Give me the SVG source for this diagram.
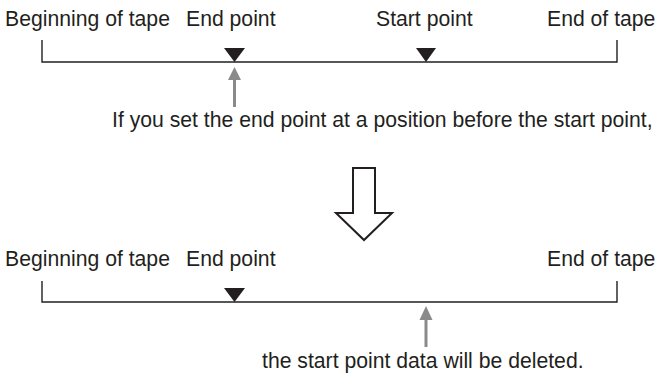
<svg xmlns="http://www.w3.org/2000/svg" width="655" height="374" viewBox="0 0 655 374">
<style>
  text { font-family: "Liberation Sans", Arial, sans-serif; font-size: 21.2px; fill: #231f20; }
  .tape { fill: none; stroke: #231f20; stroke-width: 1.4; }
  .mark { fill: #231f20; }
  .pointer { fill: #8a8a8a; }
  .pshaft { stroke: #8a8a8a; stroke-width: 3; }
  .big { fill: #ffffff; stroke: #231f20; stroke-width: 2; stroke-linejoin: miter; }
</style>
<rect width="655" height="374" fill="#ffffff"/>

<g id="top-tape">
  <path class="tape" d="M42,40 V62 H617 V40"/>
  <text x="5" y="26">Beginning of tape</text>
  <text x="547" y="26">End of tape</text>
</g>
<g id="top-end-point">
  <polygon class="mark" points="224,48 245,48 234.5,62"/>
  <text x="186" y="26">End point</text>
</g>
<g id="top-start-point">
  <polygon class="mark" points="416,48 436,48 426,62"/>
  <text x="376" y="26">Start point</text>
</g>
<g id="note-top">
  <text x="112" y="127">If you set the end point at a position before the start point,</text>
</g>

<g id="transition">
  <polygon class="big" points="353,168 375,168 375,213 392,213 364,240 336,213 353,213"/>
</g>

<g id="bottom-tape">
  <path class="tape" d="M42,281 V302 H617 V281"/>
  <text x="5" y="266">Beginning of tape</text>
  <text x="547" y="266">End of tape</text>
</g>
<g id="bottom-end-point">
  <polygon class="mark" points="224,288 245,288 234.5,302"/>
  <text x="186" y="266">End point</text>
</g>
<g id="note-bottom">
  <text x="262" y="368">the start point data will be deleted.</text>
</g>

<g id="connectors">
  <line class="pshaft" x1="234.5" y1="78" x2="234.5" y2="107"/>
  <polygon class="pointer" points="234.5,67 241,80 228,80"/>
  <line class="pshaft" x1="426" y1="318" x2="426" y2="347"/>
  <polygon class="pointer" points="426,306 432.5,320 419.5,320"/>
</g>
</svg>
